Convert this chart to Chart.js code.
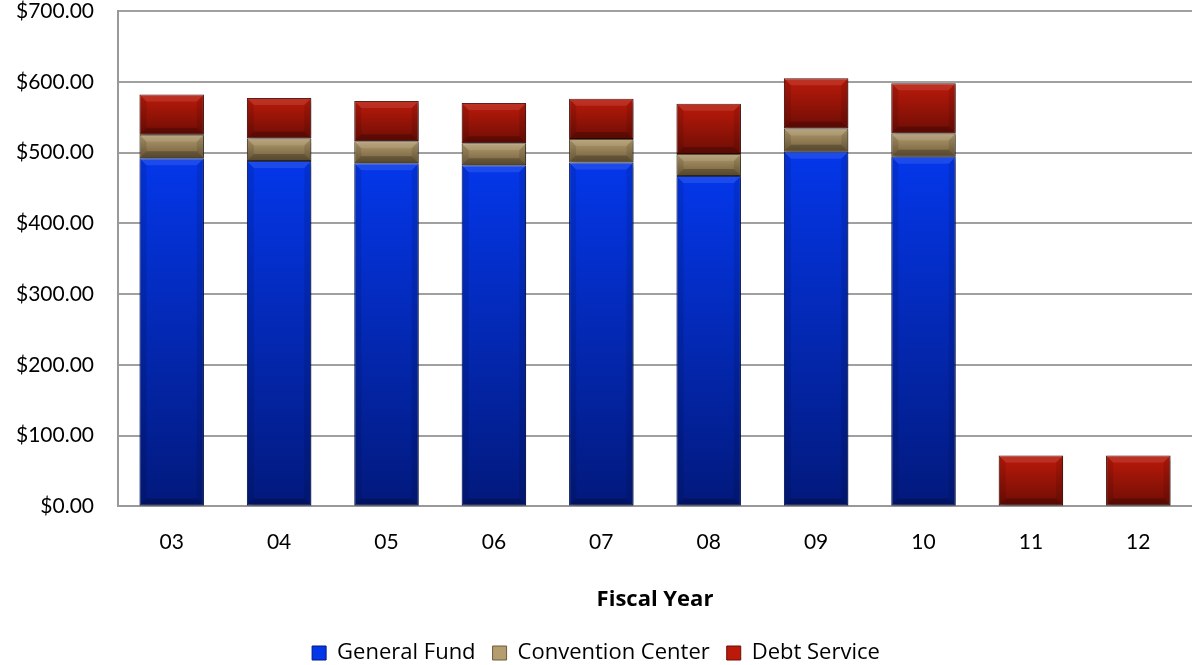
<!DOCTYPE html>
<html>
<head>
<meta charset="utf-8">
<script src="https://cdn.jsdelivr.net/npm/chart.js@4.4.1/dist/chart.umd.min.js"></script>
<style>
  html, body { margin: 0; padding: 0; background: #fff; }
  #wrap { width: 1192px; height: 665px; }
</style>
</head>
<body>
<div id="wrap"><canvas id="budget"></canvas></div>
<script>
const years = ["03", "04", "05", "06", "07", "08", "09", "10", "11", "12"];
const generalFund = [492, 488, 485, 482, 486, 467, 501, 494, 0, 0];
const conventionCenter = [33, 32, 31, 31, 33, 31, 33, 33, 0, 0];
const debtService = [57, 57, 57, 57, 57, 71, 71, 71, 72, 72];
const yTicks = [0, 100, 200, 300, 400, 500, 600, 700];

const series = [generalFund, conventionCenter, debtService];

// top / bottom colours for each series gradient
const shades = [
  ["#0437ea", "#02197c"],
  ["#b49d6f", "#6f5c3a"],
  ["#bb1a0a", "#6e0d05"]
];

function segmentFill(ctx) {
  const chart = ctx.chart;
  const y = chart.scales.y;
  const ds = ctx.datasetIndex;
  const i = ctx.dataIndex;
  const pair = shades[ds];
  if (!y || i === undefined) return pair[0];
  let base = 0;
  for (let k = 0; k < ds; k++) base += series[k][i];
  const top = base + series[ds][i];
  const y0 = y.getPixelForValue(top);
  const y1 = y.getPixelForValue(base);
  if (!isFinite(y0) || !isFinite(y1) || y1 - y0 < 1) return pair[0];
  const g = chart.ctx.createLinearGradient(0, y0, 0, y1);
  g.addColorStop(0, pair[0]);
  g.addColorStop(1, pair[1]);
  return g;
}

// soft shadow under the bars plus a light bevel on each segment
const bevel = {
  id: "bevel",
  beforeDatasetsDraw(chart) {
    const c = chart.ctx;
    c.save();
    c.shadowColor = "rgba(0,0,0,0.35)";
    c.shadowBlur = 5;
    c.shadowOffsetX = 3;
    c.shadowOffsetY = 2;
  },
  afterDatasetsDraw(chart) {
    const c = chart.ctx;
    c.restore();
    c.save();
    chart.data.datasets.forEach((d, di) => {
      chart.getDatasetMeta(di).data.forEach((bar) => {
        const p = bar.getProps(["x", "y", "base", "width"], true);
        const l = p.x - p.width / 2, r = p.x + p.width / 2;
        const t = Math.min(p.y, p.base), b = Math.max(p.y, p.base);
        const h = b - t;
        if (h < 2) return;
        const e = Math.min(7, h / 2, p.width / 2);
        c.fillStyle = "rgba(255,255,255,0.10)";
        c.beginPath();
        c.moveTo(l, t); c.lineTo(r, t); c.lineTo(r - e, t + e); c.lineTo(l + e, t + e);
        c.closePath(); c.fill();
        c.fillStyle = "rgba(0,0,0,0.10)";
        c.beginPath();
        c.moveTo(l, t); c.lineTo(l + e, t + e); c.lineTo(l + e, b - e); c.lineTo(l, b);
        c.closePath(); c.fill();
        c.beginPath();
        c.moveTo(r, t); c.lineTo(r - e, t + e); c.lineTo(r - e, b - e); c.lineTo(r, b);
        c.closePath(); c.fill();
        c.fillStyle = "rgba(0,0,0,0.22)";
        c.beginPath();
        c.moveTo(l, b); c.lineTo(r, b); c.lineTo(r - e, b - e); c.lineTo(l + e, b - e);
        c.closePath(); c.fill();
      });
    });
    c.restore();
  }
};

const tickFont = { family: "Lato", size: 21 };

new Chart(document.getElementById("budget"), {
  type: "bar",
  data: {
    labels: years,
    datasets: [
      { label: "General Fund", data: generalFund, backgroundColor: segmentFill, borderColor: "#021563", borderWidth: 1, borderSkipped: false },
      { label: "Convention Center", data: conventionCenter, backgroundColor: segmentFill, borderColor: "#4a3c22", borderWidth: 1, borderSkipped: false },
      { label: "Debt Service", data: debtService, backgroundColor: segmentFill, borderColor: "#4e0803", borderWidth: 1, borderSkipped: false }
    ]
  },
  options: {
    responsive: true,
    maintainAspectRatio: false,
    animation: false,
    datasets: { bar: { categoryPercentage: 1, barPercentage: 0.6 } },
    layout: { padding: { top: 0, left: 0, right: 0, bottom: -9 } },
    plugins: {
      tooltip: { enabled: false },
      legend: {
        position: "bottom",
        labels: {
          boxWidth: 14,
          boxHeight: 14,
          padding: 17,
          color: "#000",
          font: { family: "Open Sans", size: 22 },
          generateLabels(chart) {
            return chart.data.datasets.map((d, i) => ({
              text: d.label,
              fillStyle: shades[i][0],
              strokeStyle: shades[i][1],
              lineWidth: 1,
              datasetIndex: i
            }));
          }
        }
      }
    },
    scales: {
      x: {
        stacked: true,
        grid: { display: false, drawTicks: false },
        border: { color: "#999", width: 2 },
        ticks: { color: "#000", font: tickFont, padding: 23 },
        title: {
          display: true,
          text: "Fiscal Year",
          color: "#000",
          font: { family: "Open Sans", size: 22, weight: "bold" },
          padding: { top: 9, bottom: 12 }
        }
      },
      y: {
        stacked: true,
        min: 0,
        max: 700,
        afterBuildTicks(axis) { axis.ticks = yTicks.map((v) => ({ value: v })); },
        afterFit(axis) {
          axis.width = 118;
          axis.paddingTop = 11;
          axis.paddingBottom = 0;
        },
        grid: { color: "#a0a0a0", lineWidth: 2, drawTicks: false },
        border: { color: "#999", width: 2 },
        ticks: {
          color: "#000",
          font: tickFont,
          padding: 24,
          callback: (v) => "$" + Number(v).toFixed(2)
        }
      }
    }
  },
  plugins: [bevel]
});
</script>
</body>
</html>
